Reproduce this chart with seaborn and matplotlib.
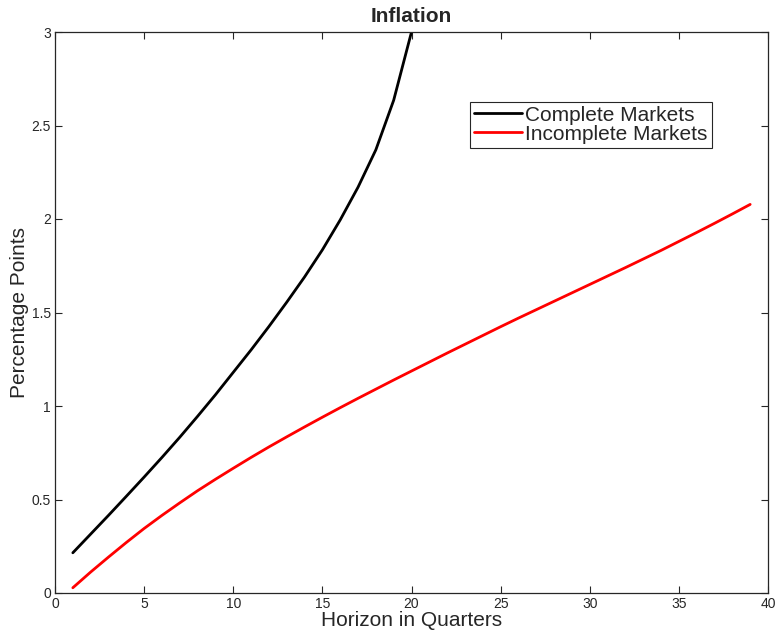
import numpy as np
import pandas as pd
import matplotlib
matplotlib.use("Agg")
import matplotlib.pyplot as plt
import seaborn as sns

# Impulse responses (percentage points, by quarter)
quarters_complete = list(range(1, 21))
complete = [0.215, 0.315, 0.415, 0.517, 0.62, 0.725, 0.833, 0.945, 1.06, 1.18,
            1.30, 1.425, 1.555, 1.69, 1.835, 1.995, 2.17, 2.37, 2.635, 3.0]

quarters_incomplete = list(range(1, 40))
incomplete = [0.028, 0.112, 0.192, 0.27, 0.345, 0.415, 0.482, 0.547, 0.608, 0.667,
              0.725, 0.781, 0.835, 0.888, 0.94, 0.991, 1.041, 1.09, 1.139, 1.187,
              1.235, 1.283, 1.33, 1.377, 1.424, 1.47, 1.515, 1.56, 1.605, 1.65,
              1.695, 1.74, 1.786, 1.832, 1.88, 1.928, 1.977, 2.027, 2.078]

labels = ["Complete Markets", "Incomplete Markets"]
colors = ["black", "red"]

df = pd.concat([
    pd.DataFrame({"quarter": quarters_complete, "value": complete, "model": labels[0]}),
    pd.DataFrame({"quarter": quarters_incomplete, "value": incomplete, "model": labels[1]}),
])

sns.set_style("ticks")
plt.rcParams["font.family"] = ["Liberation Sans", "DejaVu Sans"]

fig = plt.figure(figsize=(7.78, 6.31), dpi=100)
ax = fig.add_axes([55 / 778, 38 / 631, 713 / 778, 561 / 631])

sns.lineplot(data=df, x="quarter", y="value", hue="model", palette=colors,
             linewidth=2.0, ax=ax, legend=True)

ax.set_xlim(0, 40)
ax.set_ylim(0, 3)
ax.set_xticks(range(0, 41, 5))
ax.set_yticks([0, 0.5, 1, 1.5, 2, 2.5, 3])
ax.set_yticklabels(["0", "0.5", "1", "1.5", "2", "2.5", "3"])
ax.tick_params(direction="in", length=5, width=0.8, labelsize=10, colors="#262626",
               top=True, right=True, pad=3)
for s in ax.spines.values():
    s.set_visible(True)
    s.set_linewidth(0.9)
    s.set_color("#262626")

ax.set_xlabel("Horizon in Quarters", fontsize=15, color="#262626", labelpad=0)
ax.set_ylabel("Percentage Points", fontsize=15, color="#262626", labelpad=2)
ax.set_title("Inflation", fontsize=15, fontweight="bold", pad=7)

leg = ax.legend(loc="upper left", bbox_to_anchor=(0.582, 0.876), fontsize=15,
                frameon=True, fancybox=False, framealpha=1, edgecolor="#262626",
                borderpad=0.2, labelspacing=0.0, handlelength=2.3,
                handletextpad=0.15, borderaxespad=0)
leg.get_frame().set_linewidth(0.8)

fig.savefig("out.png", dpi=100)
